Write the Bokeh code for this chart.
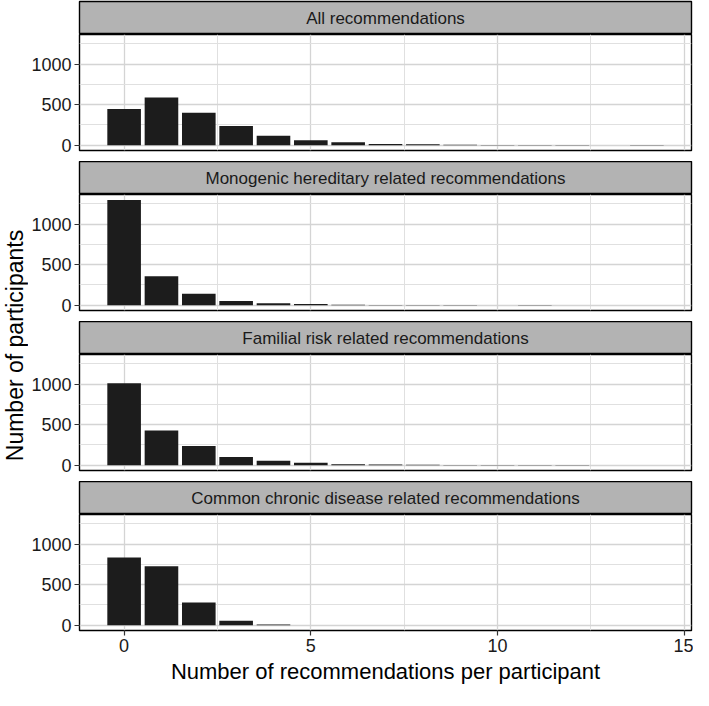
import math
from bokeh.plotting import figure
from bokeh.models import Range1d, FixedTicker, Label, ColumnDataSource
from bokeh.layouts import row, column
from bokeh.embed import file_html
from bokeh.resources import INLINE

# ---------------- data ----------------
recs = list(range(15))
facet_titles = [
    "All recommendations",
    "Monogenic hereditary related recommendations",
    "Familial risk related recommendations",
    "Common chronic disease related recommendations",
]
all_counts = [448, 588, 400, 236, 116, 60, 38, 14, 12, 6, 4, 4, 3, 0, 2]
monogenic_counts = [1296, 356, 140, 52, 24, 14, 6, 4, 4, 3, 0, 2, 0, 0, 0]
familial_counts = [1010, 428, 236, 102, 55, 32, 12, 8, 5, 4, 4, 3, 3, 0, 0]
chronic_counts = [834, 727, 281, 55, 8, 0, 0, 0, 0, 0, 0, 0, 0, 0, 0]
y_ticks = [0, 500, 1000]
y_minor = [250, 750, 1250]
x_ticks = [0, 5, 10, 15]
x_minor = [2.5, 7.5, 12.5]
x_title = "Number of recommendations per participant"
y_title = "Number of participants"

series = [all_counts, monogenic_counts, familial_counts, chronic_counts]

# ---------------- style / layout ----------------
FONT = "Liberation Sans"
TOTAL_H = 690
LAB_W = 28
FIG_W = 665
BL, BR = 50, 2
STRIP_H = 33
PANEL_H = 116
GAP = 11
AXIS_B = 60
BAR_COLOR = "#1c1c1c"
GRID_MAJ = "#d4d4d4"
GRID_MIN = "#e0e0e0"
STRIP_FILL = "#b3b3b3"

x_range = Range1d(-1.195, 15.195)

children = []
for i, (title, counts) in enumerate(zip(facet_titles, series)):
    top_pad = 1 if i == 0 else 0
    s = figure(width=FIG_W, height=STRIP_H + top_pad, output_backend="svg",
               toolbar_location=None, x_range=Range1d(0, 1), y_range=Range1d(0, 1),
               x_axis_location=None, y_axis_location=None,
               min_border_left=BL, min_border_right=BR,
               min_border_top=top_pad, min_border_bottom=0)
    s.background_fill_color = STRIP_FILL
    s.border_fill_color = "white"
    s.outline_line_color = "black"
    s.outline_line_width = 1.4
    s.xgrid.visible = False
    s.ygrid.visible = False
    s.add_layout(Label(x=0.5, y=0.5, text=title, text_align="center",
                       text_baseline="middle", text_font=FONT,
                       text_font_size="17px", text_color="#1a1a1a"))
    children.append(s)

    last = (i == len(series) - 1)
    bottom_pad = AXIS_B if last else GAP
    p = figure(width=FIG_W, height=PANEL_H + bottom_pad,
               output_backend="svg", toolbar_location=None,
               x_range=x_range, y_range=Range1d(-65, 1365),
               x_axis_location="below" if last else None,
               min_border_left=BL, min_border_right=BR,
               min_border_top=0, min_border_bottom=bottom_pad)
    src = ColumnDataSource(dict(x=recs, top=counts))
    p.vbar(x="x", top="top", bottom=0, width=0.9, source=src,
           fill_color=BAR_COLOR, line_color=None)
    p.background_fill_color = "white"
    p.border_fill_color = "white"
    p.outline_line_color = "black"
    p.outline_line_width = 1.4

    p.yaxis.ticker = FixedTicker(ticks=y_ticks, minor_ticks=y_minor)
    p.ygrid.ticker = FixedTicker(ticks=y_ticks, minor_ticks=y_minor)
    p.xgrid.ticker = FixedTicker(ticks=x_ticks, minor_ticks=x_minor)
    for g in (p.xgrid, p.ygrid):
        g.grid_line_color = GRID_MAJ
        g.grid_line_width = 1.3
        g.minor_grid_line_color = GRID_MIN
        g.minor_grid_line_width = 1.0

    axes = [p.yaxis[0]] + ([p.xaxis[0]] if last else [])
    for ax in axes:
        ax.axis_line_color = None
        ax.major_tick_line_color = "#333333"
        ax.major_tick_line_width = 1.2
        ax.major_tick_out = 5
        ax.major_tick_in = 0
        ax.minor_tick_line_color = None
        ax.major_label_text_font = FONT
        ax.major_label_text_font_size = "18px"
        ax.major_label_text_color = "#1a1a1a"
        ax.major_label_standoff = 3
    if last:
        p.xaxis.ticker = FixedTicker(ticks=x_ticks, minor_ticks=x_minor)
        p.xaxis.axis_label = x_title
        p.xaxis.axis_label_text_font = FONT
        p.xaxis.axis_label_text_font_size = "22px"
        p.xaxis.axis_label_text_font_style = "normal"
        p.xaxis.axis_label_text_color = "black"
        p.xaxis.axis_label_standoff = 4
    children.append(p)

ylab = figure(width=LAB_W, height=TOTAL_H, output_backend="svg",
              toolbar_location=None, x_range=Range1d(0, 1), y_range=Range1d(0, TOTAL_H),
              x_axis_location=None, y_axis_location=None,
              min_border_left=0, min_border_right=0, min_border_top=0, min_border_bottom=0)
ylab.outline_line_color = None
ylab.xgrid.visible = False
ylab.ygrid.visible = False
ylab.add_layout(Label(x=0.5, y=TOTAL_H - 345, text=y_title, angle=math.pi / 2,
                      text_align="center", text_baseline="middle", text_font=FONT,
                      text_font_size="23px", text_color="black"))

layout = row(ylab, column(*children, spacing=0), spacing=0)

open("out.html", "w").write(file_html(layout, INLINE))
